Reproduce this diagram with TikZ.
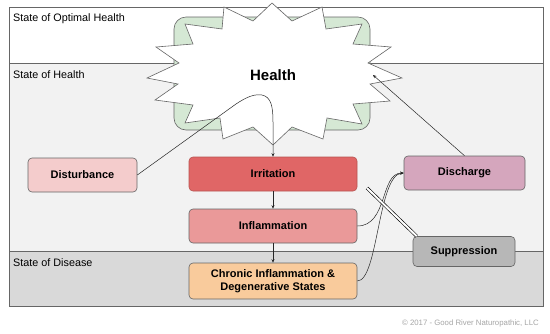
\documentclass[tikz,border=0pt]{standalone}
\usepackage{fontspec}
\setmainfont{Liberation Sans}
\usetikzlibrary{arrows.meta,calc}
\definecolor{bandmid}{HTML}{F2F2F2}
\definecolor{bandlow}{HTML}{D9D9D9}
\definecolor{framec}{HTML}{666666}
\definecolor{greenf}{HTML}{D5E8D4}
\definecolor{distf}{HTML}{F4CCCC}
\definecolor{irrf}{HTML}{E06666}
\definecolor{irrd}{HTML}{B85450}
\definecolor{inflf}{HTML}{EA9999}
\definecolor{chronf}{HTML}{F9CB9C}
\definecolor{dischf}{HTML}{D5A6BD}
\definecolor{suppf}{HTML}{B7B7B7}
\definecolor{copyc}{HTML}{A6A6A6}
\begin{document}
\begin{tikzpicture}[x=1pt,y=-1pt,
  box/.style={draw=framec, line width=0.6pt, rounded corners=4pt, font=\bfseries\fontsize{11}{13}\selectfont, align=center, inner sep=0pt},
  band/.style={draw=framec, line width=0.6pt},
  conn/.style={draw=black!85, line width=0.5pt},
  arr/.style={conn, -{Stealth[length=3.5pt,width=3pt]}},
  bandlabel/.style={anchor=west, font=\fontsize{10.8}{12}\selectfont, inner sep=0pt}
]
\useasboundingbox (0,0) rectangle (550,333);
\fill[white] (0,0) rectangle (550,333);
% bands
\filldraw[band, fill=white] (9,7) rectangle (543,63);
\filldraw[band, fill=bandmid] (9,63) rectangle (543,251);
\filldraw[band, fill=bandlow] (9,251) rectangle (543,306);
\node[bandlabel] (lopt) at (13,19) {State of Optimal Health};
\node[bandlabel] (lhealth) at (13,75) {State of Health};
\node[bandlabel] (ldis) at (13,263) {State of Disease};
% green rounded rect
\filldraw[draw=framec, line width=0.6pt, fill=greenf, rounded corners=12pt] (174,17) rectangle (370,130);
% star
\filldraw[draw=framec, line width=0.6pt, fill=white]
  (272,3) -- (292,21) -- (322,7) -- (326,29) -- (362,24) -- (353,44) -- (391,47) -- (368,63)
  -- (402,78) -- (370,84) -- (390,101) -- (353,104) -- (362,124) -- (327,118) -- (323,139)
  -- (292,127) -- (273,145) -- (253,127) -- (223,139) -- (220,118) -- (185,123) -- (193,105)
  -- (155,100) -- (178,84) -- (147,78) -- (179,63) -- (156,47) -- (193,44) -- (185,24)
  -- (222,29) -- (224,7) -- (253,21) -- cycle;
\node[font=\bfseries\fontsize{15}{18}\selectfont] (health) at (273,75) {Health};
\coordinate (hdst) at (373,75);
% boxes
\node[box, fill=distf, minimum width=109pt, minimum height=34pt] (dist) at (82.5,175) {Disturbance};
\node[box, fill=irrf, draw=irrd, minimum width=168pt, minimum height=34pt] (irr) at (273,174) {Irritation};
\node[box, fill=inflf, minimum width=168pt, minimum height=34pt] (infl) at (273,226) {Inflammation};
\node[box, fill=chronf, minimum width=168pt, minimum height=36pt] (chron) at (273,281) {Chronic Inflammation \&\\Degenerative States};
\node[box, fill=dischf, minimum width=121pt, minimum height=34pt] (disch) at (464.5,173) {Discharge};
\node[box, fill=suppf, minimum width=102pt, minimum height=30pt] (supp) at (464,251.5) {Suppression};
% connectors
\draw[arr] (dist.east) -- (236,104) .. controls (248,96) and (255,94) .. (262,95)
  .. controls (271,97) and (273,106) .. (273,122) -- (irr.north);
\draw[arr] (irr.south) -- (infl.north);
\draw[arr] (infl.south) -- (chron.north);
\draw[arr] (infl.east) .. controls (388,226) and (380,173) .. (disch.west);
\draw[arr] (chron.east) .. controls (378,281) and (378,175) .. (disch.west);
\draw[arr] (disch.north) -- (hdst);
\coordinate (sstart) at (367,188);
\draw[draw=black, line width=0.6pt, double=white, double distance=2pt] (sstart) -- ($(supp.north west)+(4,0)$);
% copyright
\node[anchor=east, text=copyc, inner sep=0pt, font=\fontsize{7.8}{9}\selectfont] (copy) at (539,323) {© 2017 - Good River Naturopathic, LLC};
\end{tikzpicture}
\end{document}
